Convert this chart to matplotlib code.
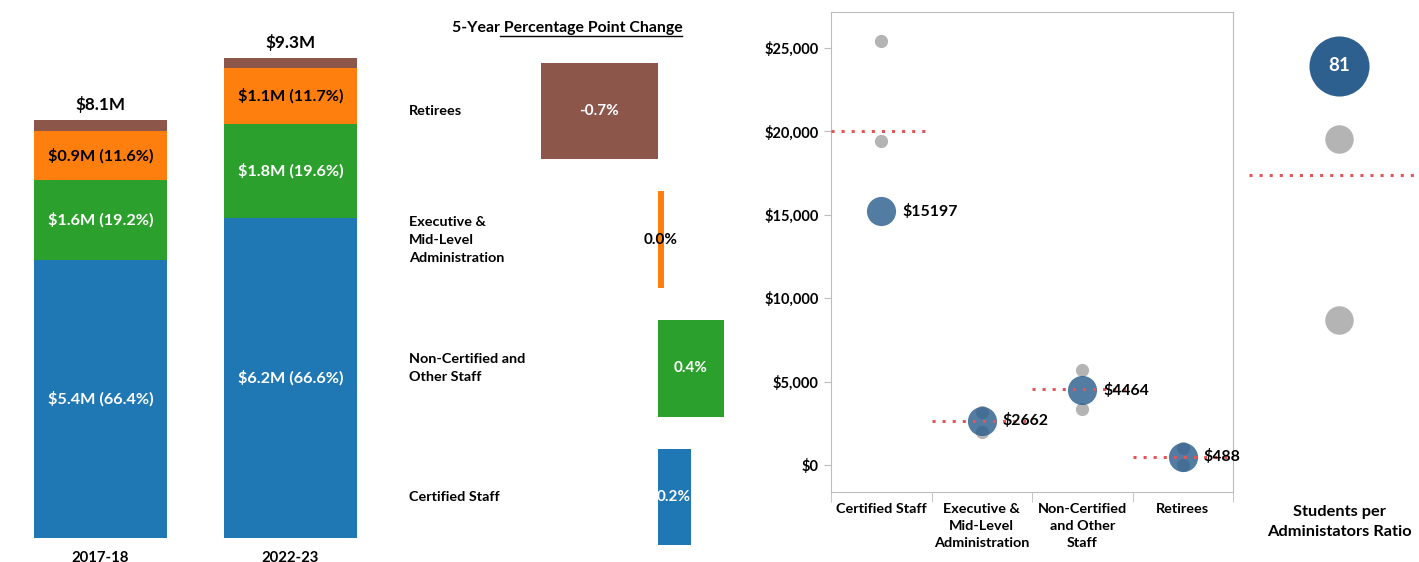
import matplotlib
matplotlib.use('Agg')
import matplotlib.pyplot as plt
from matplotlib.lines import Line2D

plt.rcParams['font.family'] = ['Lato', 'DejaVu Sans']
plt.rcParams['font.weight'] = 'bold'

# stacked spending by year ($M) and each group's share (%)
years = ['2017-18', '2022-23']
totals = [8.1, 9.3]
cert_share = [66.4, 66.6]
noncert_share = [19.2, 19.6]
exec_share = [11.6, 11.7]
retiree_share = [2.8, 2.1]

# 5-year percentage point change
change_groups = ['Retirees', 'Executive &\nMid-Level\nAdministration',
                 'Non-Certified and\nOther Staff', 'Certified Staff']
pp_change = [-0.7, 0.04, 0.4, 0.2]

# per-pupil cost: district vs peers vs state average
cost_groups = ['Certified Staff', 'Executive &\nMid-Level\nAdministration',
               'Non-Certified\nand Other\nStaff', 'Retirees']
district_cost = [15197, 2662, 4464, 488]
peer_cost_a = [25400, 3200, 5700, 1000]
peer_cost_b = [19400, 2000, 3340, 0]
state_avg_cost = [20000, 2650, 4550, 500]

# students per administrator
ratio_district = 81
ratio_peers = [75, 60]
ratio_avg = 72

BLUE, GREEN, ORANGE, BROWN = '#1f77b4', '#2ca02c', '#ff7f0e', '#8c564b'
DOT_BLUE = '#2d5f8f'
GREY = '#b4b4b4'
RED = '#e15759'
SPINE = '#bdbdbd'

W, H = 1419, 562
fig = plt.figure(figsize=(W / 100, H / 100), dpi=100)


def px_axes(x0, x1, y0, y1):
    # axes from pixel box measured from the top-left corner
    return fig.add_axes([x0 / W, (H - y1) / H, (x1 - x0) / W, (y1 - y0) / H])


# ---- stacked bars
ax1 = px_axes(5.5, 385.5, 10, 538)
ax1.set_xlim(-0.5, 1.5)
ax1.set_ylim(0, 528 / 51.65)
ax1.axis('off')
xs = [0, 1]
bottom = [0.0, 0.0]
layers = [(cert_share, BLUE, 'white'), (noncert_share, GREEN, 'white'),
          (exec_share, ORANGE, 'black'), (retiree_share, BROWN, None)]
for share, color, txt in layers:
    vals = [t * s / 100 for t, s in zip(totals, share)]
    ax1.bar(xs, vals, bottom=bottom, width=0.7, color=color)
    if txt:
        for x, b, v, s in zip(xs, bottom, vals, share):
            ax1.text(x, b + v / 2, f'${v:.1f}M ({s:.1f}%)', ha='center',
                     va='center', color=txt, fontsize=11.7)
    bottom = [b + v for b, v in zip(bottom, vals)]
for x, t in zip(xs, totals):
    ax1.annotate(f'${t:.1f}M', (x, t), xytext=(0, 5), textcoords='offset points',
                 ha='center', va='bottom', fontsize=12.3, fontweight='bold')
    ax1.annotate(years[x], (x, 0), xytext=(0, -9), textcoords='offset points',
                 ha='center', va='top', fontsize=10.7, fontweight='bold')

# ---- percentage point change
ax2 = px_axes(530, 745, 46.5, 561.5)
ax2.set_xlim(-127.5 / 166, 87.5 / 166)
ax2.set_ylim(3.5, -0.5)
ax2.axis('off')
bar_colors = [BROWN, ORANGE, GREEN, BLUE]
rows = range(len(pp_change))
ax2.barh(rows, pp_change, height=0.75, color=bar_colors)
for i, v in enumerate(pp_change):
    ax2.text(v / 2, i, f'{v:.1f}%', ha='center', va='center', fontsize=11,
             color='black' if abs(v) < 0.1 else 'white')
    ax2.annotate(change_groups[i], xy=(409, i), xycoords=('figure pixels', 'data'),
                 ha='left', va='center', fontsize=10.4, linespacing=1.6)

title = fig.text(567 / W, 1 - 28 / H, '5-Year Percentage Point Change',
                 ha='center', va='center', fontsize=11.4)

# ---- per-pupil cost dot plot
ax3 = px_axes(831, 1233, 12, 492)
ax3.set_xlim(-0.5, 3.5)
ax3.set_ylim(-1620, 27150)
cx = list(range(len(district_cost)))
ax3.scatter(cx, peer_cost_a, s=90, color=GREY, zorder=2, linewidths=0)
ax3.scatter(cx, peer_cost_b, s=90, color=GREY, zorder=2, linewidths=0)
ax3.scatter(cx, district_cost, s=440, color=DOT_BLUE, alpha=0.82, zorder=3,
            linewidths=0)
for x, v in zip(cx, state_avg_cost):
    ax3.plot([x - 0.5, x + 0.45], [v, v], color=RED, lw=2.2,
             ls=(0, (1, 2.3)), zorder=4)
for x, v in zip(cx, district_cost):
    ax3.annotate(f'${v}', (x, v), xytext=(15, 0), textcoords='offset points',
                 ha='left', va='center', fontsize=11.4, zorder=5)
ax3.set_yticks(range(0, 25001, 5000))
ax3.set_yticklabels([f'${v:,}' for v in range(0, 25001, 5000)], fontsize=10.5)
ax3.set_xticks(cx)
ax3.set_xticklabels(cost_groups, fontsize=10.4, linespacing=1.5)
ax3.set_xticks([-0.5, 0.5, 1.5, 2.5, 3.5], minor=True)
ax3.tick_params(axis='x', which='major', length=0, pad=8)
ax3.tick_params(axis='x', which='minor', length=7, color=SPINE)
ax3.tick_params(axis='y', length=5, color=SPINE, pad=4)
for sp in ax3.spines.values():
    sp.set_color(SPINE)

# ---- students per administrator
ax4 = px_axes(1249, 1429, 12, 492)
ax4.set_xlim(-1, 1)
ax4.set_ylim(81 - 426 / 12.1, 81 + 54 / 12.1)
ax4.axis('off')
ax4.axhline(ratio_avg, color=RED, lw=2.2, ls=(0, (1, 2.3)))
ax4.scatter([0] * len(ratio_peers), ratio_peers, s=420, color=GREY, linewidths=0)
ax4.scatter([0], [ratio_district], s=1870, color=DOT_BLUE, linewidths=0)
ax4.text(0, ratio_district, str(ratio_district), ha='center', va='center',
         color='white', fontsize=13.5)
fig.text(1339 / W, 1 - 522 / H, 'Students per\nAdministators Ratio',
         ha='center', va='center', fontsize=11.8, linespacing=1.5)

# underline the second part of the middle title
fig.canvas.draw()
r = fig.canvas.get_renderer()
full = title.get_window_extent(r)
probe = fig.text(0, 0, '5-Year', fontsize=11.4)
pre_w = probe.get_window_extent(r).width
probe.remove()
uy = (full.y0 - 1) / H
fig.add_artist(Line2D([(full.x0 + pre_w) / W, full.x1 / W], [uy, uy],
                      transform=fig.transFigure, color='black', lw=1))

fig.savefig('out.png', dpi=100)
